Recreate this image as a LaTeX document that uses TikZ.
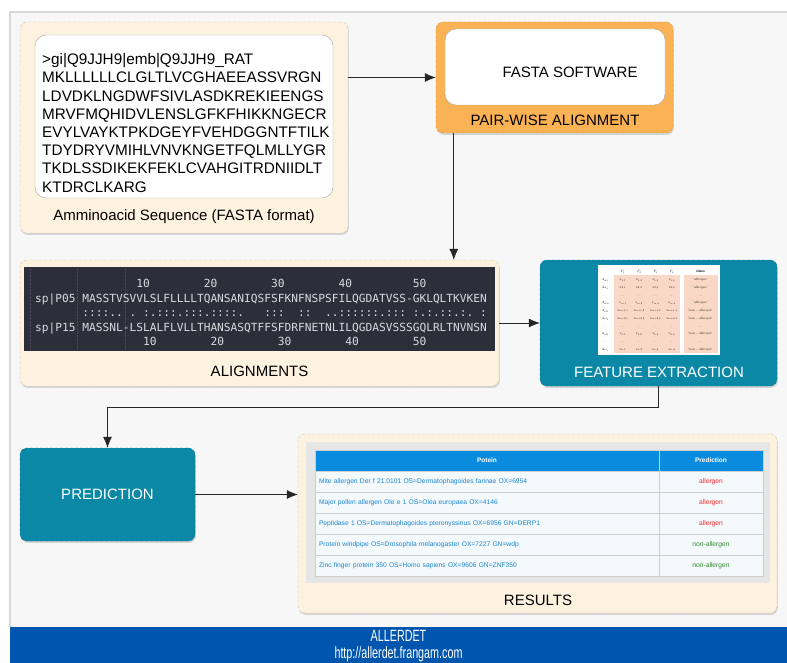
\documentclass[tikz,border=0pt]{standalone}
\usepackage{fontspec}
\setmainfont{Liberation Sans}
\newfontfamily\seqmono{DejaVu Sans Mono}
\newfontfamily\bandfont[FakeStretch=0.66]{Liberation Sans}
\usepackage{graphicx}
\usepackage{colortbl}
\usetikzlibrary{arrows.meta, positioning, calc, shadows}

\definecolor{pagebg}{HTML}{F7F7F7}
\definecolor{cream}{HTML}{FDF2DF}
\definecolor{creamline}{HTML}{D6C6A6}
\definecolor{orangebox}{HTML}{FBB254}
\definecolor{orangeline}{HTML}{E2963A}
\definecolor{tealbox}{HTML}{0A88A6}
\definecolor{tealline}{HTML}{0B7390}
\definecolor{termbg}{HTML}{2C2F3A}
\definecolor{termfg}{HTML}{D8DADF}
\definecolor{termline}{HTML}{474B58}
\definecolor{bandblue}{HTML}{0055AE}
\definecolor{hdrblue}{HTML}{0B8BDD}
\definecolor{rowblue}{HTML}{1B86CF}
\definecolor{rowbg}{HTML}{F4F9FC}
\definecolor{gridgray}{HTML}{CDCDCD}
\definecolor{panelgray}{HTML}{E6E6E6}
\definecolor{allred}{HTML}{F22B2B}
\definecolor{nonallgreen}{HTML}{2E8B2E}
\definecolor{featpink}{HTML}{FAD8C8}

\newcommand{\gap}[1]{\hspace*{#1\fontcharwd\font`0}}
\newcolumntype{P}[1]{>{\columncolor{featpink}\centering\arraybackslash}p{#1}}

\begin{document}
\begin{tikzpicture}[
        x=1pt, y=-1pt,
        stage/.style={rectangle, rounded corners=7pt, densely dashed, line width=0.4pt,
            drop shadow={shadow xshift=0.8pt, shadow yshift=-1.8pt, opacity=0.3}},
        creamstage/.style={stage, fill=cream, draw=creamline},
        orangestage/.style={stage, fill=orangebox, draw=orangeline},
        tealstage/.style={stage, fill=tealbox, draw=tealline, text=white},
        whitebox/.style={rectangle, rounded corners=11pt, draw=gray!70, fill=white},
        captext/.style={font=\fontsize{15}{17}\selectfont},
        arr/.style={-{Latex[length=11pt,width=9pt]}, draw=black!85, line width=0.7pt},
        hdrcell/.style={rectangle, draw=gridgray, fill=hdrblue, text=white, minimum height=21pt,
            font=\fontsize{6.5}{7.5}\selectfont\bfseries},
        protcell/.style={rectangle, draw=gridgray, fill=rowbg, minimum width=344pt, minimum height=21pt,
            text width=336pt, align=left, text=rowblue, font=\fontsize{6.7}{7.5}\selectfont},
        predcell/.style={rectangle, draw=gridgray, fill=rowbg, minimum width=104pt, minimum height=21pt,
            font=\fontsize{6.7}{7.5}\selectfont},
    ]
    \useasboundingbox (0,0) rectangle (787,663);
    \fill[white] (0,0) rectangle (787,663);
    \fill[pagebg] (10,12) rectangle (787,627);
    \draw[black!15, line width=2pt] (10,627) -- (10,12) -- (787,12);

    % input sequence
    \node[creamstage, minimum width=328pt, minimum height=211pt] (seqbox) at (184,127.5) {};
    \node[whitebox, minimum width=298pt, minimum height=163pt] (seqinner) at (184,116.5) {};
    \node[anchor=west, align=left, inner sep=0pt, font=\fontsize{15.3}{18.2}\selectfont] (seqtext) at (42,123)
        {>gi|Q9JJH9|emb|Q9JJH9\_RAT\\ MKLLLLLLCLGLTLVCGHAEEASSVRGN\\ LDVDKLNGDWFSIVLASDKREKIEENGS\\
         MRVFMQHIDVLENSLGFKFHIKKNGECR\\ EVYLVAYKTPKDGEYFVEHDGGNTFTILK\\ TDYDRYVMIHLVNVKNGETFQLMLLYGR\\
         TKDLSSDIKEKFEKLCVAHGITRDNIIDLT\\ KTDRCLKARG};
    \node[captext] (seqcap) at (184,217) {Amminoacid Sequence (FASTA format)};

    % pair-wise alignment
    \node[orangestage, minimum width=237pt, minimum height=111pt] (pwbox) at (554.5,77.5) {};
    \node[whitebox, minimum width=220pt, minimum height=76pt] (fastasw) at (555,67) {};
    \node[captext] (swlabel) at (570,72) {FASTA SOFTWARE};
    \node[captext] (pwcap) at (555,120) {PAIR-WISE ALIGNMENT};

    % alignments
    \node[creamstage, minimum width=479pt, minimum height=126pt] (alignbox) at (259.5,323) {};
    \node[rectangle, fill=termbg, minimum width=471pt, minimum height=84pt] (aligndark) at (259.5,309) {};
    \foreach \vx in {30,77,125}
        \draw[termline, densely dotted] (\vx,269) -- (\vx,349);
    \node[anchor=west, align=left, inner sep=0pt, text=termfg,
          font=\seqmono\fontsize{11.2}{14.5}\selectfont] (aligntext) at (35,312.5)
        {\gap{15}10\gap{8}20\gap{8}30\gap{8}40\gap{9}50\\
         sp|P05 MASSTVSVVLSLFLLLLTQANSANIQSFSFKNFNSPSFILQGDATVSS-GKLQLTKVKEN\\
         \gap{7}::::..\gap{1}.\gap{1}:.:::.:::.::::.\gap{3}:::\gap{2}::\gap{2}..::::::.:::\gap{1}:.:.::.:.\gap{1}:\\
         sp|P15 MASSNL-LSLALFLVLLTHANSASQTFFSFDRFNETNLILQGDASVSSSGQLRLTNVNSN\\
         \gap{16}10\gap{8}20\gap{8}30\gap{8}40\gap{8}50};
    \node[captext] (aligncap) at (259.5,371) {ALIGNMENTS};

    % feature extraction
    \node[tealstage, minimum width=237pt, minimum height=126pt] (featbox) at (658.5,323) {};
    \node[fill=white, inner sep=2pt, minimum width=122pt, minimum height=90pt] (featimg) at (659,310)
        {\resizebox*{117pt}{85pt}{\fontsize{8}{9.5}\selectfont\setlength\tabcolsep{2.5pt}\renewcommand\arraystretch{2}%
         \begin{tabular}{p{30pt}P{36pt}P{36pt}P{36pt}P{36pt}@{\hspace{14pt}}P{80pt}}
         \rowcolor{white} & $F_1$ & $F_2$ & $F_3$ & $F_4$ & \textbf{\textit{Class}}\\
         $A_{al_1}$ & $x_{1,1}$ & $x_{1,2}$ & $x_{1,3}$ & $x_{1,4}$ & `$allergen$'\\
         $A_{al_2}$ & $x_{2,1}$ & $x_{2,2}$ & $x_{2,3}$ & $x_{2,4}$ & `$allergen$'\\
         $\cdots$ & $\cdots$ & $\cdots$ & $\cdots$ & $\cdots$ & $\cdots$\\
         $A_{al_m}$ & $x_{m,1}$ & $x_{m,2}$ & $x_{m,3}$ & $x_{m,4}$ & `$allergen$'\\
         $A_{nl_1}$ & $x_{m+1,1}$ & $x_{m+1,2}$ & $x_{m+1,3}$ & $x_{m+1,4}$ & `$non-allergen$'\\
         $A_{nl_2}$ & $x_{m+2,1}$ & $x_{m+2,2}$ & $x_{m+2,3}$ & $x_{m+2,4}$ & `$non-allergen$'\\
         $\cdots$ & $\cdots$ & $\cdots$ & $\cdots$ & $\cdots$ & $\cdots$\\
         $A_{nl_k}$ & $x_{k,1}$ & $x_{k,2}$ & $x_{k,3}$ & $x_{k,4}$ & `$non-allergen$'\\
         $\cdots$ & $\cdots$ & $\cdots$ & $\cdots$ & $\cdots$ & $\cdots$\\
         $A_{nl_n}$ & $x_{n,1}$ & $x_{n,2}$ & $x_{n,3}$ & $x_{n,4}$ & `$non-allergen$'
         \end{tabular}}};
    \node[captext, text=white] (featcap) at (659,372) {FEATURE EXTRACTION};

    % prediction
    \node[tealstage, captext, minimum width=175pt, minimum height=93pt] (predbox) at (107.5,494.5) {PREDICTION};

    % results
    \node[creamstage, minimum width=479pt, minimum height=179pt] (resbox) at (537.5,523.5) {};
    \node[fill=panelgray, minimum width=464pt, minimum height=141pt] (respanel) at (538,512.5) {};
    \node[hdrcell, minimum width=344pt] (hdrprot) at (487,460.5) {Potein};
    \node[hdrcell, minimum width=104pt] (hdrpred) at (711,460.5) {Prediction};
    \foreach \prot/\cls/\clr [count=\i] in {
        Mite allergen Der f 21.0101 OS=Dermatophagoides farinae OX=6954/allergen/allred,
        Major pollen allergen Ole e 1 OS=Olea europaea OX=4146/allergen/allred,
        Peptidase 1 OS=Dermatophagoides pteronyssinus OX=6956 GN=DERP1/allergen/allred,
        Protein windpipe OS=Drosophila melanogaster OX=7227 GN=wdp/non-allergen/nonallgreen,
        Zinc finger protein 350 OS=Homo sapiens OX=9606 GN=ZNF350/non-allergen/nonallgreen} {
        \node[protcell] (prot\i) at (487,{460.5+21*\i}) {\prot};
        \node[predcell, text=\clr] (pred\i) at (711,{460.5+21*\i}) {\cls};
    }
    \node[captext] (rescap) at (538,600) {RESULTS};

    % footer
    \node[fill=bandblue, minimum width=777pt, minimum height=36pt, text=white, align=center,
          font=\bandfont\fontsize{16.3}{17}\selectfont] (footer) at (398.5,646)
        {ALLERDET\\http://allerdet.frangam.com};

    % flow
    \coordinate (pwout) at ([xshift=18pt]pwbox.south west);
    \draw[arr] (seqbox.east |- pwbox.west) -- (pwbox.west);
    \draw[arr] (pwout) -- (pwout |- alignbox.north);
    \draw[arr] (alignbox.east) -- (featbox.west);
    \draw[arr] (featbox.south) -- ++(0,21) -| (predbox.north);
    \draw[arr] (predbox.east) -- (predbox.east -| resbox.west);
\end{tikzpicture}
\end{document}
